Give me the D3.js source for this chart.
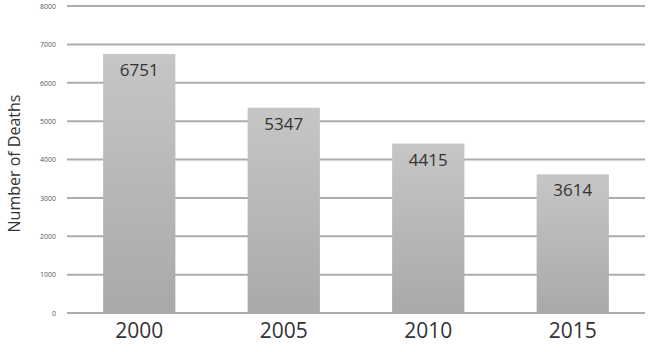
<!DOCTYPE html>
<html>
<head>
<meta charset="utf-8">
<script src="https://cdn.jsdelivr.net/npm/d3@7"></script>
<style>
body { margin: 0; background: #fff; }
svg { display: block; }
</style>
</head>
<body>
<script>
// data
var years = ["2000", "2005", "2010", "2015"];
var deaths = [6751, 5347, 4415, 3614];
var yTicks = [0, 1000, 2000, 3000, 4000, 5000, 6000, 7000, 8000];

var margin = {top: 6, right: 6, bottom: 39, left: 67};
var width = 651 - margin.left - margin.right,
    height = 352 - margin.top - margin.bottom;

var svg = d3.select("body").append("svg")
    .attr("width", 651)
    .attr("height", 352);

var defs = svg.append("defs");
var grad = defs.append("linearGradient")
    .attr("id", "barGrad")
    .attr("x1", 0).attr("y1", 0).attr("x2", 0).attr("y2", 1);
grad.append("stop").attr("offset", "0%").attr("stop-color", "#c6c6c6");
grad.append("stop").attr("offset", "100%").attr("stop-color", "#a9a9a9");

var g = svg.append("g")
    .attr("transform", "translate(" + margin.left + "," + margin.top + ")");

var xScale = d3.scaleBand()
    .domain(years)
    .range([0, width])
    .paddingInner(0.5)
    .paddingOuter(0.25);

var yScale = d3.scaleLinear()
    .domain([0, 8000])
    .range([height, 0]);

// gridlines
g.append("g")
    .selectAll("line")
    .data(yTicks)
    .enter()
    .append("line")
    .attr("x1", 0)
    .attr("x2", width)
    .attr("y1", function(d) { return yScale(d); })
    .attr("y2", function(d) { return yScale(d); })
    .style("stroke", "#acacac")
    .style("stroke-width", 2);

// y axis tick labels
var yAxis = g.append("g")
    .call(d3.axisLeft(yScale).tickValues(yTicks).tickFormat(d3.format("d")).tickSize(0).tickPadding(11));
yAxis.select(".domain").remove();
yAxis.selectAll("text")
    .style("font-family", "Open Sans, sans-serif")
    .style("font-size", "7px")
    .style("fill", "#555");

// bars
g.selectAll(".bar")
    .data(deaths)
    .enter()
    .append("rect")
    .attr("class", "bar")
    .attr("x", function(d, i) { return xScale(years[i]); })
    .attr("y", function(d) { return yScale(d); })
    .attr("width", xScale.bandwidth())
    .attr("height", function(d) { return height - yScale(d); })
    .style("fill", "url(#barGrad)");

// value labels
g.selectAll(".val")
    .data(deaths)
    .enter()
    .append("text")
    .attr("class", "val")
    .attr("x", function(d, i) { return xScale(years[i]) + xScale.bandwidth() / 2; })
    .attr("y", function(d) { return yScale(d) + 22; })
    .attr("text-anchor", "middle")
    .style("font-family", "Open Sans, sans-serif")
    .style("font-size", "17px")
    .style("fill", "#333")
    .text(function(d) { return d; });

// x axis
var xAxis = g.append("g")
    .attr("transform", "translate(0," + height + ")")
    .call(d3.axisBottom(xScale).tickSize(0).tickPadding(10));
xAxis.select(".domain").remove();
xAxis.selectAll("text")
    .style("font-family", "Open Sans, sans-serif")
    .style("font-size", "21px")
    .style("fill", "#333");

// y axis label
svg.append("text")
    .attr("transform", "translate(20," + (margin.top + height / 2 + 4) + ") rotate(-90)")
    .attr("text-anchor", "middle")
    .style("font-family", "Open Sans, sans-serif")
    .style("font-size", "16px")
    .style("fill", "#333")
    .text("Number of Deaths");
</script>
</body>
</html>
